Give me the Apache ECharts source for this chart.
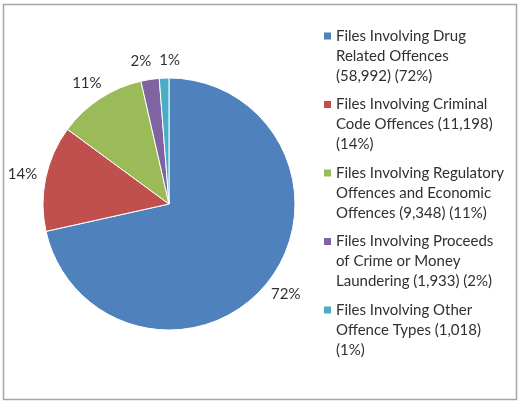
<!DOCTYPE html>
<html><head><meta charset="utf-8">
<script src="https://cdn.jsdelivr.net/npm/echarts@6/dist/echarts.min.js"></script>
<style>html,body{margin:0;padding:0;background:#fff}#c{width:520px;height:403px}</style>
</head><body><div id="c"></div>
<script>
const categories = [
  'Files Involving Drug Related Offences',
  'Files Involving Criminal Code Offences',
  'Files Involving Regulatory Offences and Economic Offences',
  'Files Involving Proceeds of Crime or Money Laundering',
  'Files Involving Other Offence Types'
];
const values = [58992, 11198, 9348, 1933, 1018];
const percentLabels = ['72%', '14%', '11%', '2%', '1%'];
const legendLines = [
  ['Files Involving Drug', 'Related Offences', '(58,992) (72%)'],
  ['Files Involving Criminal', 'Code Offences (11,198)', '(14%)'],
  ['Files Involving Regulatory', 'Offences and Economic', 'Offences (9,348) (11%)'],
  ['Files Involving Proceeds', 'of Crime or Money', 'Laundering (1,933) (2%)'],
  ['Files Involving Other', 'Offence Types (1,018)', '(1%)']
];
const colors = ['#4F81BD', '#C0504D', '#9BBB59', '#8064A2', '#4BACC6'];

const CX = 169, CY = 204, R = 126, GAP = 9, LABEL_GAP = 8, LABEL_H = 18;
const total = values.reduce((a, b) => a + b, 0);
const FONT = 'Lato', FS = 15;

// label placement just outside each slice, text centred, with horizontal de-overlap
const mctx = document.createElement('canvas').getContext('2d');
mctx.font = FS + 'px ' + FONT;
let acc = 0;
const labelPos = values.map(function (v, i) {
  const mid = (acc + v / 2) / total;
  acc += v;
  const a = (90 - mid * 360) * Math.PI / 180;
  const c = Math.cos(a), s = Math.sin(a);
  const w = mctx.measureText(percentLabels[i]).width;
  return {
    x: CX + c * (R + GAP) + c * w / 2,
    y: CY - s * (R + GAP) - s * LABEL_H / 2,
    w: w
  };
});
for (let it = 0; it < 20; it++) {
  for (let i = 0; i < labelPos.length; i++) {
    for (let j = i + 1; j < labelPos.length; j++) {
      const A = labelPos[i], B = labelPos[j];
      if (Math.abs(A.y - B.y) >= LABEL_H) continue;
      const need = (A.w + B.w) / 2 + LABEL_GAP - Math.abs(A.x - B.x);
      if (need > 0) {
        const dir = A.x <= B.x ? -1 : 1;
        A.x += dir * need / 2;
        B.x -= dir * need / 2;
      }
    }
  }
}

const chart = echarts.init(document.getElementById('c'), null, {renderer: 'canvas'});
chart.setOption({
  animation: false,
  backgroundColor: '#fff',
  color: colors,
  graphic: [{
    type: 'rect', silent: true,
    shape: {x: 3.5, y: 4.5, width: 513, height: 395},
    style: {fill: 'none', stroke: '#a6a6a6', lineWidth: 1.5}
  }],
  legend: {
    orient: 'vertical',
    left: 319, top: 21,
    padding: 5,
    itemGap: 8.5,
    itemWidth: 7, itemHeight: 60,
    icon: 'path://M0,0L0,0M0,6.5h7v7h-7zM7,60L7,60',
    itemStyle: {borderWidth: 0},
    selectedMode: false,
    data: categories,
    formatter: function (name) {
      return legendLines[categories.indexOf(name)].join('\n');
    },
    textStyle: {fontFamily: FONT, fontSize: FS, lineHeight: 20, color: '#303030'}
  },
  series: [{
    type: 'pie',
    center: [CX, CY],
    radius: R,
    startAngle: 90,
    clockwise: true,
    avoidLabelOverlap: false,
    itemStyle: {borderColor: '#fff', borderWidth: 1},
    label: {
      show: true, position: 'outside',
      fontFamily: FONT, fontSize: FS, color: '#303030',
      formatter: function (p) { return percentLabels[p.dataIndex]; }
    },
    labelLine: {show: false, length: 5, length2: 0},
    labelLayout: function (p) {
      const q = labelPos[p.dataIndex];
      return {x: q.x, y: q.y, align: 'center', verticalAlign: 'middle'};
    },
    data: categories.map((n, i) => ({name: n, value: values[i]}))
  }]
});
</script></body></html>
